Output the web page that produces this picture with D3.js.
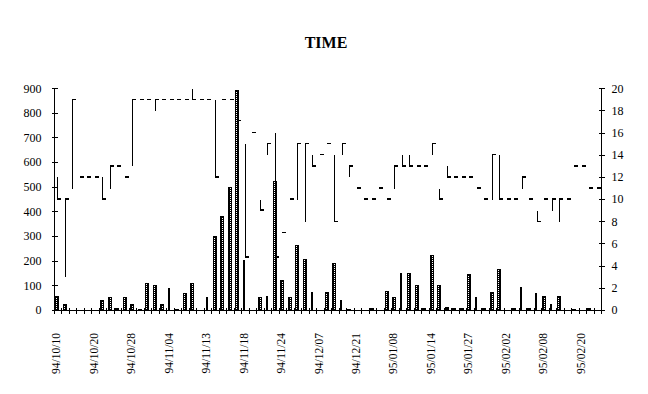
<!DOCTYPE html>
<html>
<head>
<meta charset="utf-8">
<script src="https://cdn.jsdelivr.net/npm/d3@7"></script>
<style>
  body { margin: 0; background: #fff; }
  text { font-family: "Liberation Serif", "Times New Roman", serif; fill: #000; }
</style>
</head>
<body>
<div id="chart"></div>
<script>
// x axis: one label every 5th day
var tickLabels = ["94/10/10", "94/10/20", "94/10/28", "94/11/04", "94/11/13",
                  "94/11/18", "94/11/24", "94/12/07", "94/12/21", "95/01/08",
                  "95/01/14", "95/01/27", "95/02/02", "95/02/08", "95/02/20"];
var nCats = 73;

// left axis bars (dotted pattern and solid)
var dotBars = [58, 25, 0, 0, 0, 0, 42, 54, 12, 54,
               25, 8, 112, 102, 25, 0, 8, 70, 112, 0,
               0, 301, 382, 501, 893, 0, 0, 55, 0, 525,
               123, 54, 265, 208, 0, 0, 74, 193, 0, 8,
               0, 0, 12, 0, 78, 54, 0, 153, 103, 12,
               224, 103, 15, 12, 10, 150, 0, 12, 74, 170,
               0, 12, 0, 10, 0, 58, 0, 58, 0, 6,
               0, 10, 0];
var solidBars = [0, 0, 0, 0, 0, 0, 0, 0, 0, 0,
                 0, 0, 0, 0, 0, 90, 0, 0, 0, 0,
                 55, 0, 0, 0, 0, 204, 0, 0, 58, 0,
                 0, 0, 0, 0, 74, 0, 0, 0, 42, 0,
                 0, 0, 0, 0, 0, 0, 153, 0, 0, 0,
                 0, 0, 0, 0, 0, 0, 55, 0, 0, 0,
                 0, 0, 94, 0, 70, 0, 26, 0, 0, 0,
                 0, 0, 0];

// right axis high-low-close
var hiVals = [12, 10, 19, 12, 12, 12, 12, 13, 13, 12,
              19, 19, 19, 19, 19, 19, 19, 19, 20, 19,
              19, 19, 19, 19, 17.1, 15, 16, 10, 15, 16,
              7, 10, 15, 15, 14, 14, 15, 14, 15, 13,
              11, 10, 10, 11, 10, 13, 14, 14, 13, 13,
              15, 11, 13, 12, 12, 12, 11, 10, 14, 14,
              10, 10, 12, 10, 9, 10, 10, 10, 10, 13,
              13, 11, 11];
var loVals = [10, 3, 11, 12, 12, 12, 10, 11, 13, 12,
              13, 19, 19, 18, 19, 19, 19, 19, 19, 19,
              19, 12, 19, 19, 17.1, 4.8, 16, 9, 14, 4.8,
              7, 10, 10, 8, 13, 14, 15, 8, 14, 12,
              11, 10, 10, 11, 10, 11, 13, 13, 13, 13,
              14, 10, 12, 12, 12, 12, 11, 10, 10, 10,
              10, 10, 11, 10, 8, 10, 9, 8, 10, 13,
              13, 11, 11];
var closeVals = [10, 10, 19, 12, 12, 12, 10, 13, 13, 12,
                 19, 19, 19, 19, 19, 19, 19, 19, 19, 19,
                 19, 12, 19, 19, 17.1, 4.8, 16, 9, 15, 4.8,
                 7, 10, 15, 15, 13, 14, 15, 8, 15, 13,
                 11, 10, 10, 11, 10, 13, 13, 13, 13, 13,
                 15, 10, 12, 12, 12, 12, 11, 10, 14, 10,
                 10, 10, 12, 10, 8, 10, 10, 10, 10, 13,
                 13, 11, 11];

var leftTicks = [0, 100, 200, 300, 400, 500, 600, 700, 800, 900];
var rightTicks = [0, 2, 4, 6, 8, 10, 12, 14, 16, 18, 20];

var plot = {left: 54.5, right: 601.5, top: 88.7, bottom: 310.5};

var svg = d3.select("#chart")
  .append("svg")
    .attr("width", 648)
    .attr("height", 394);

var defs = svg.append("defs");
var pat = defs.append("pattern")
    .attr("id", "dots")
    .attr("width", 2)
    .attr("height", 2)
    .attr("patternUnits", "userSpaceOnUse");
pat.append("rect").attr("width", 2).attr("height", 2).attr("fill", "#000");
pat.append("rect").attr("width", 1).attr("height", 1).attr("fill", "#fff");

var x = d3.scaleBand().domain(d3.range(nCats)).range([plot.left, plot.right]);
var xEdge = d3.scaleLinear().domain([0, nCats]).range([plot.left, plot.right]);
var yL = d3.scaleLinear().domain([0, 900]).range([plot.bottom, plot.top]);
var yR = d3.scaleLinear().domain([0, 20]).range([plot.bottom, plot.top]);
function cx(i) { return x(i) + x.bandwidth() / 2; }

// title
svg.append("text")
    .attr("x", 326)
    .attr("y", 48)
    .attr("text-anchor", "middle")
    .attr("font-size", 16)
    .attr("font-weight", "bold")
    .text("TIME");

// bars
var bars = svg.append("g").attr("shape-rendering", "crispEdges");
var base = Math.floor(plot.bottom);
dotBars.forEach(function(v, i) {
  if (!v) return;
  var top = Math.round(yL(v));
  var x0 = Math.round(cx(i) - 3);
  bars.append("rect")
      .attr("x", x0).attr("y", top)
      .attr("width", 4).attr("height", base - top)
      .attr("fill", "#000");
  if (base - top > 3) {
    bars.append("rect")
        .attr("x", x0 + 1).attr("y", top + 1)
        .attr("width", 2).attr("height", base - top - 1)
        .attr("fill", "url(#dots)");
  }
});
solidBars.forEach(function(v, i) {
  if (!v) return;
  var top = Math.round(yL(v));
  bars.append("rect")
      .attr("x", Math.round(cx(i) - 2.5)).attr("y", top)
      .attr("width", 2).attr("height", base - top)
      .attr("fill", "#000");
});

// high-low lines and close ticks (close tick snapped to whole pixel rows)
var hlc = svg.append("g").attr("shape-rendering", "crispEdges");
closeVals.forEach(function(c, i) {
  var xc = Math.round(cx(i));
  if (hiVals[i] !== loVals[i]) {
    hlc.append("line")
        .attr("x1", xc - 0.5).attr("x2", xc - 0.5)
        .attr("y1", yR(hiVals[i])).attr("y2", yR(loVals[i]))
        .attr("stroke", "#000")
        .attr("stroke-width", 1);
  }
  var yc = yR(c);
  var r0 = Math.ceil(yc - 1.2 - 0.5), r1 = Math.floor(yc + 0.25 - 0.5);
  hlc.append("rect")
      .attr("x", xc - 1).attr("y", r0)
      .attr("width", 4).attr("height", Math.max(1, r1 - r0 + 1))
      .attr("fill", "#000");
});

// axes
function styleAxis(g) {
  g.attr("font-family", null).attr("font-size", 12)
   .attr("shape-rendering", "crispEdges");
  g.selectAll("path, line").attr("stroke", "#000");
}

var left = svg.append("g")
    .attr("transform", "translate(" + plot.left + ",0)")
    .call(d3.axisLeft(yL).tickValues(leftTicks).tickSize(3).tickSizeOuter(0)
          .tickPadding(10).offset(0))
    .call(styleAxis);
left.selectAll(".tick line").attr("x1", 3);

var right = svg.append("g")
    .attr("transform", "translate(" + plot.right + ",0)")
    .call(d3.axisRight(yR).tickValues(rightTicks).tickSize(3).tickSizeOuter(0)
          .tickPadding(7).offset(0))
    .call(styleAxis);
right.selectAll(".tick line").attr("x1", -3);

var bottom = svg.append("g")
    .attr("transform", "translate(0," + plot.bottom + ")")
    .call(d3.axisBottom(xEdge).tickValues(d3.range(nCats + 1)).tickSize(3)
          .tickSizeOuter(0).tickFormat("").offset(0))
    .call(styleAxis);
bottom.selectAll(".tick line").attr("y1", -3);

// rotated date labels
svg.append("g")
  .selectAll("text")
  .data(tickLabels)
  .enter()
  .append("text")
    .attr("transform", function(d, k) {
      return "translate(" + (cx(k * 5) - 2) + ",333)rotate(-90)";
    })
    .attr("text-anchor", "end")
    .attr("dy", "0.35em")
    .attr("font-size", 11.5)
    .text(function(d) { return d; });
</script>
</body>
</html>
